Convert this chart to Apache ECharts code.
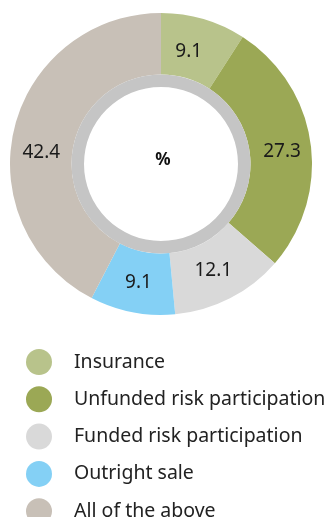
<!DOCTYPE html>
<html>
<head>
<meta charset="utf-8">
<script src="https://cdn.jsdelivr.net/npm/echarts@6/dist/echarts.min.js"></script>
<style>
  html, body { margin: 0; padding: 0; background: #fff; }
  #chart { width: 326px; height: 517px; }
</style>
</head>
<body>
<div id="chart"></div>
<script>
// Share of risk-distribution methods used (%)
const categories = ['Insurance', 'Unfunded risk participation', 'Funded risk participation', 'Outright sale', 'All of the above'];
const shares = [9.1, 27.3, 12.1, 9.1, 42.4];
const colors = ['#b8c38b', '#9ba855', '#d9d9d9', '#84d0f5', '#c8c0b7'];
// small nudges so value labels sit where the layout wants them
const labelOffsets = [[-7, 6], [-1, 5], [-4, -3], [1, -2], [0, 18]];

const FONT = '"Noto Sans", sans-serif';
const CENTER = [161, 164];

const chart = echarts.init(document.getElementById('chart'), null, { renderer: 'canvas' });

chart.setOption({
  animation: false,
  color: colors,
  legend: {
    orient: 'vertical',
    left: 26,
    top: 349,
    height: 300,
    padding: 0,
    icon: 'circle',
    itemWidth: 26,
    itemHeight: 26,
    itemGap: 11.3,
    selectedMode: false,
    data: categories,
    textStyle: { fontFamily: FONT, fontSize: 19.5, color: '#222', padding: [0, 0, 0, 17] }
  },
  graphic: [{
    type: 'text',
    x: CENTER[0] + 2,
    y: CENTER[1] - 4,
    style: {
      text: '%', fontFamily: FONT, fontSize: 17, fontWeight: 'bold', fill: '#111',
      align: 'center', verticalAlign: 'middle'
    }
  }],
  series: [
    {
      type: 'pie',
      center: CENTER,
      radius: [89.5, 151],
      startAngle: 90,
      clockwise: true,
      silent: true,
      label: {
        show: true,
        position: 'inside',
        formatter: (p) => p.value.toFixed(1),
        fontFamily: FONT,
        fontSize: 19,
        color: '#1a1a1a'
      },
      labelLine: { show: false },
      data: categories.map((name, i) => ({
        name,
        value: shares[i],
        label: { offset: labelOffsets[i] }
      }))
    },
    {
      // inner grey ring
      type: 'pie',
      center: CENTER,
      radius: [77, 89.5],
      silent: true,
      label: { show: false },
      labelLine: { show: false },
      itemStyle: { color: '#c5c5c5' },
      data: [{ name: '', value: 1 }]
    }
  ]
});
</script>
</body>
</html>
